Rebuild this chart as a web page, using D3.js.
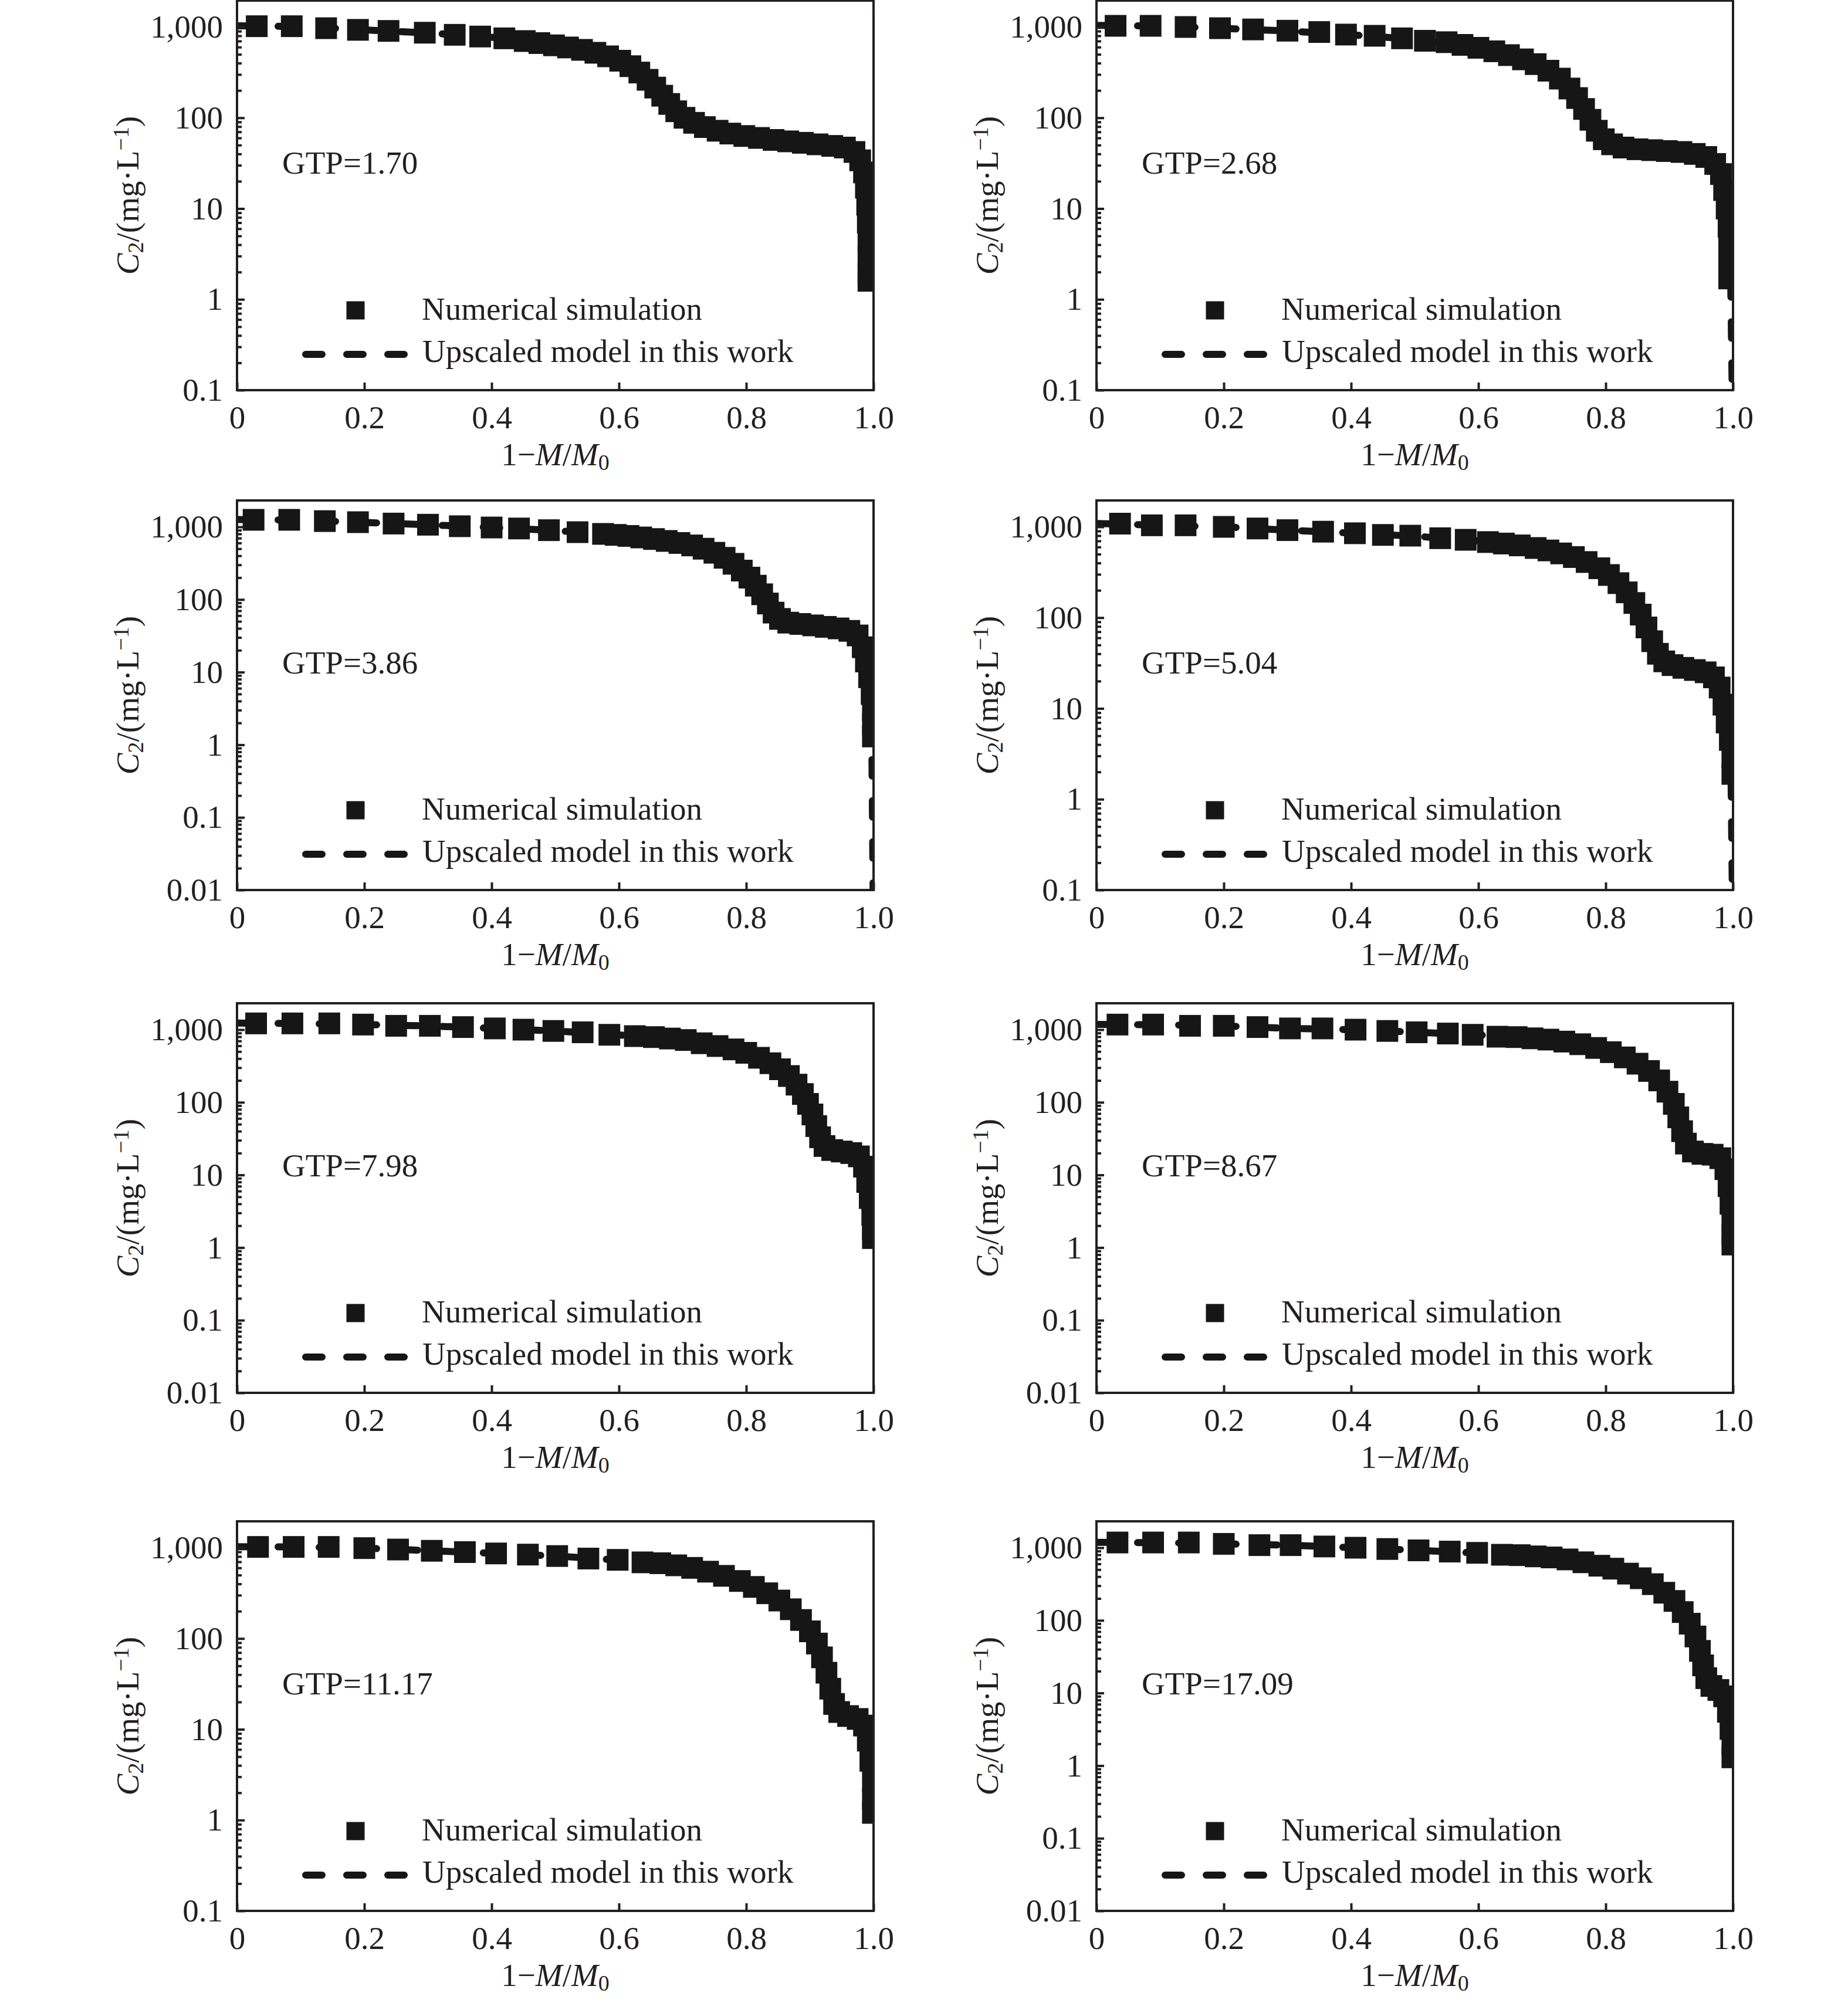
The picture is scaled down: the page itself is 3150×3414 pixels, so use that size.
<!DOCTYPE html>
<html><head><meta charset="utf-8">
<script src="https://cdn.jsdelivr.net/npm/d3@7"></script>
<style>body{margin:0;background:#fff;} text{font-family:"Liberation Serif","Times New Roman",serif;}</style>
</head><body>
<script>
// ---------- DATA ----------
const gtpLabels = ["1.70","2.68","3.86","5.04","7.98","8.67","11.17","17.09"];
const yMins = [0.1,0.1,0.01,0.1,0.01,0.01,0.1,0.01];
const yMajorTicks = [0.01,0.1,1,10,100,1000];
const xTicks = [0,0.2,0.4,0.6,0.8,1.0];
const legendLabels = ["Numerical simulation","Upscaled model in this work"];

const sim170 = [[0.031,1020],[0.086,1020],[0.14,970],[0.19,930],[0.238,905],[0.295,865],[0.342,820],[0.382,785],[0.42,750],
[0.452,700],[0.475,665],[0.498,628],[0.52,595],[0.542,560],[0.563,520],[0.583,475],[0.602,425],[0.618,370],[0.632,315],[0.645,262],[0.657,215],[0.668,175],[0.679,142],[0.69,118],[0.703,100],[0.718,88],[0.735,79],[0.755,72],[0.775,67],[0.797,63],[0.82,60],[0.843,57],[0.866,55],[0.889,53],[0.912,51],[0.935,49],[0.955,47],[0.97,42],[0.979,34],[0.985,25],[0.988,17],[0.99,11],[0.991,7],[0.992,4.5],[0.992,2.9],[0.992,1.9],[0.992,1.6]];
const sim268 = [[0.03,1030],[0.085,1030],[0.14,1000],[0.194,970],[0.246,940],[0.30,910],[0.35,880],[0.392,825],[0.437,800],[0.48,750],[0.516,705],
[0.55,680],[0.575,635],[0.6,590],[0.625,540],[0.648,490],[0.67,440],[0.69,390],[0.71,330],[0.728,270],[0.743,210],[0.755,165],[0.766,125],[0.776,95],[0.786,72],[0.797,58],[0.81,51],[0.828,47],[0.85,45],[0.873,44],[0.896,43],[0.919,42],[0.94,40],[0.958,37],[0.972,31],[0.981,24],[0.986,16],[0.99,10],[0.993,6.3],[0.994,4],[0.994,2.6],[0.994,1.7]];
const sim386 = [[0.026,1250],[0.082,1250],[0.138,1200],[0.19,1160],[0.246,1110],[0.30,1070],[0.35,1020],[0.40,980],[0.443,950],[0.49,900],[0.535,845],[0.575,800],
[0.595,775],[0.615,750],[0.635,715],[0.655,680],[0.675,640],[0.695,600],[0.715,555],[0.733,500],[0.75,440],[0.766,375],[0.78,310],[0.793,250],[0.805,200],[0.815,155],[0.825,118],[0.834,88],[0.843,66],[0.853,54],[0.866,48],[0.885,46],[0.905,44],[0.925,42],[0.945,40],[0.962,37],[0.975,32],[0.983,22],[0.988,14],[0.993,8.5],[0.997,5],[0.999,3],[0.999,1.9],[0.999,1.3]];
const sim504 = [[0.037,1085],[0.087,1040],[0.14,1040],[0.2,1000],[0.253,960],[0.3,920],[0.356,885],[0.406,850],[0.45,815],[0.493,800],[0.54,750],[0.58,720],
[0.615,680],[0.64,655],[0.665,625],[0.69,585],[0.71,550],[0.73,510],[0.75,465],[0.77,410],[0.79,350],[0.805,295],[0.82,240],[0.833,190],[0.845,145],[0.855,108],[0.864,78],[0.873,55],[0.882,40],[0.892,33],[0.905,30],[0.922,28],[0.94,26.5],[0.957,25],[0.97,22],[0.979,17],[0.985,11],[0.99,7],[0.995,4.5],[0.999,2.9],[0.999,1.9]];
const sim798 = [[0.03,1220],[0.087,1220],[0.145,1220],[0.198,1175],[0.25,1130],[0.303,1130],[0.355,1085],[0.405,1040],[0.45,1000],[0.497,960],[0.543,920],[0.585,850],[0.625,815],
[0.655,790],[0.68,755],[0.705,720],[0.73,650],[0.755,595],[0.78,535],[0.8,480],[0.82,410],[0.838,345],[0.853,285],[0.867,230],[0.879,175],[0.889,130],[0.897,95],[0.904,68],[0.91,47],[0.916,33],[0.923,25],[0.935,22],[0.95,21],[0.965,20],[0.977,18],[0.985,13],[0.99,8],[0.994,4.8],[0.998,2.8],[0.999,1.8],[0.999,1.35]];
const sim867 = [[0.033,1175],[0.089,1175],[0.147,1130],[0.2,1130],[0.253,1085],[0.304,1040],[0.355,1040],[0.407,1000],[0.457,960],[0.503,920],[0.552,885],[0.591,850],[0.63,800],
[0.66,790],[0.685,760],[0.71,730],[0.735,685],[0.76,630],[0.785,560],[0.808,490],[0.83,415],[0.85,340],[0.868,270],[0.884,200],[0.897,140],[0.907,95],[0.914,62],[0.92,40],[0.926,27],[0.937,21],[0.952,19.5],[0.968,19],[0.98,17],[0.988,12],[0.993,7],[0.996,4],[0.999,2.3],[0.999,1.5],[0.999,1.1]];
const sim1117 = [[0.033,1020],[0.089,1020],[0.144,1020],[0.2,990],[0.253,955],[0.306,925],[0.358,895],[0.407,865],[0.457,840],[0.503,810],[0.552,760],[0.598,735],[0.637,690],
[0.665,675],[0.69,640],[0.715,600],[0.74,545],[0.765,490],[0.79,430],[0.812,370],[0.833,315],[0.852,262],[0.87,210],[0.886,160],[0.9,120],[0.911,88],[0.919,62],[0.926,42],[0.932,28],[0.938,19],[0.946,15.5],[0.96,14],[0.975,13],[0.985,11],[0.991,7.5],[0.995,4.5],[0.999,2.7],[0.999,1.7],[0.999,1.2]];
const sim1709 = [[0.033,1180],[0.089,1180],[0.145,1180],[0.2,1130],[0.256,1085],[0.305,1085],[0.358,1040],[0.407,1000],[0.457,960],[0.506,920],[0.555,885],[0.598,850],[0.637,800],
[0.665,790],[0.69,760],[0.715,735],[0.74,690],[0.765,630],[0.79,565],[0.812,515],[0.835,440],[0.855,380],[0.874,315],[0.892,240],[0.908,185],[0.921,130],[0.932,90],[0.941,60],[0.948,38],[0.953,24],[0.958,16],[0.966,12.5],[0.977,11],[0.986,9],[0.992,5.5],[0.996,3.2],[0.999,2],[0.999,1.3]];

const model170 = [[0,1030],[0.1,1010],[0.2,930],[0.3,860],[0.4,770],[0.5,625],[0.6,430],[0.65,240],[0.7,105],[0.75,74],[0.85,57],[0.95,48],[0.975,38],[0.99,15],[0.992,3],[0.992,1.6]];
const model268 = [[0,1040],[0.1,1025],[0.2,965],[0.3,905],[0.4,820],[0.5,730],[0.6,590],[0.67,440],[0.72,300],[0.76,140],[0.79,65],[0.82,48],[0.9,43],[0.95,39],[0.975,29],[0.99,12],[0.996,2.5],[1.0,0.02]];
const model386 = [[0,1260],[0.1,1240],[0.2,1150],[0.3,1070],[0.4,980],[0.5,890],[0.6,770],[0.7,590],[0.76,390],[0.8,230],[0.83,100],[0.85,55],[0.88,47],[0.95,40],[0.975,32],[0.99,12],[0.997,2],[1.0,0.002]];
const model504 = [[0,1090],[0.1,1040],[0.2,1000],[0.3,920],[0.4,855],[0.5,790],[0.6,700],[0.7,570],[0.78,385],[0.83,210],[0.86,92],[0.88,43],[0.9,31],[0.95,26],[0.975,20],[0.99,6],[0.997,1.5],[1.0,0.02]];
const model798 = [[0,1230],[0.1,1215],[0.2,1175],[0.3,1125],[0.4,1045],[0.5,960],[0.6,845],[0.7,725],[0.8,480],[0.85,305],[0.89,130],[0.91,47],[0.925,24],[0.95,21],[0.977,18],[0.99,8],[0.998,2],[0.999,1.4]];
const model867 = [[0,1180],[0.1,1170],[0.2,1125],[0.3,1045],[0.4,1000],[0.5,925],[0.6,845],[0.7,740],[0.8,515],[0.85,340],[0.897,140],[0.914,62],[0.93,24],[0.96,19],[0.98,17],[0.993,7],[0.998,2.3],[0.999,1.2]];
const model1117 = [[0,1025],[0.1,1020],[0.2,990],[0.3,930],[0.4,870],[0.5,812],[0.6,730],[0.7,625],[0.8,405],[0.87,210],[0.911,88],[0.932,28],[0.946,15.5],[0.975,13],[0.991,7.5],[0.998,2.7],[0.999,1.3]];
const model1709 = [[0,1185],[0.1,1175],[0.2,1130],[0.3,1085],[0.4,1005],[0.5,925],[0.6,845],[0.7,750],[0.8,540],[0.874,315],[0.921,130],[0.948,38],[0.958,16],[0.977,11],[0.992,5.5],[0.998,2],[0.999,1.4]];

const simSeries = [sim170,sim268,sim386,sim504,sim798,sim867,sim1117,sim1709];
const modelSeries = [model170,model268,model386,model504,model798,model867,model1117,model1709];

// ---------- LAYOUT ----------
const W = 3150, H = 3414;
const colX = [404, 1869], rowTop = [1, 853, 1710, 2593];
const PW = 1085, PH = 664, TOPPAD = 45;
const INK = "#231f20", MARK = "#161616";
const FS = 55;

const svg = d3.select("body").append("svg").attr("width", W).attr("height", H);
const defs = svg.append("defs");

const yFmt = d3.format(",");
const xFmt = v => v === 0 ? "0" : d3.format(".1f")(v);

simSeries.forEach((sim, i) => {
  const col = i % 2, row = Math.floor(i / 2);
  const x0 = colX[col], top = rowTop[row], bottom = top + PH;
  const ymin = yMins[i];
  const decs = Math.log10(1000 / ymin);
  const ppd = (PH - TOPPAD) / decs;
  const ymax = 1000 * Math.pow(10, TOPPAD / ppd);
  const xs = d3.scaleLinear().domain([0, 1]).range([x0, x0 + PW]);
  const ys = d3.scaleLog().domain([ymin, ymax]).range([bottom, top]);

  const g = svg.append("g");
  defs.append("clipPath").attr("id", "clip" + i).append("rect")
    .attr("x", x0).attr("y", top).attr("width", PW).attr("height", PH);
  const plot = g.append("g").attr("clip-path", `url(#clip${i})`);

  // model dashed line
  const line = d3.line().x(d => xs(d[0])).y(d => ys(Math.max(d[1], 1e-4)));
  plot.append("path").datum(modelSeries[i]).attr("d", line)
    .attr("fill", "none").attr("stroke", MARK).attr("stroke-width", 12)
    .attr("stroke-dasharray", "28 42").attr("stroke-linecap", "round");

  // simulation squares
  const S = 37;
  plot.selectAll("rect.m").data(sim).enter().append("rect").attr("class", "m")
    .attr("x", d => xs(d[0]) - S / 2).attr("y", d => ys(d[1]) - S / 2)
    .attr("width", S).attr("height", S).attr("fill", MARK);

  // axes
  const majors = yMajorTicks.filter(v => v >= ymin - 1e-12);
  const minors = [];
  for (let e = Math.round(Math.log10(ymin)); e < 3; e++)
    for (let k = 2; k <= 9; k++) minors.push(k * Math.pow(10, e));
  const yAx = g.append("g").attr("transform", `translate(${x0},0)`)
    .call(d3.axisLeft(ys).tickValues(majors).tickFormat(yFmt).tickSize(-13).tickSizeOuter(0).tickPadding(24));
  const yAxMin = g.append("g").attr("transform", `translate(${x0},0)`)
    .call(d3.axisLeft(ys).tickValues(minors).tickFormat("").tickSize(-8).tickSizeOuter(0));
  const xAx = g.append("g").attr("transform", `translate(0,${bottom})`)
    .call(d3.axisBottom(xs).tickValues(xTicks).tickFormat(xFmt).tickSize(-13).tickSizeOuter(0).tickPadding(26));
  [yAx, yAxMin, xAx].forEach(a => {
    a.select(".domain").remove();
    a.selectAll("line").attr("stroke", INK).attr("stroke-width", 4);
    a.selectAll("text").attr("fill", INK).style("font-size", FS + "px")
      .style("font-family", '"Liberation Serif","Times New Roman",serif');
  });

  // box
  g.append("rect").attr("x", x0).attr("y", top).attr("width", PW).attr("height", PH)
    .attr("fill", "none").attr("stroke", INK).attr("stroke-width", 4);

  // GTP label
  g.append("text").attr("x", x0 + 77).attr("y", top + 295).attr("fill", INK)
    .style("font-size", FS + "px").text("GTP=" + gtpLabels[i]);

  // legend
  g.append("rect").attr("x", x0 + 202 - 15.5).attr("y", top + 528 - 15.5)
    .attr("width", 31).attr("height", 31).attr("fill", MARK);
  g.append("text").attr("x", x0 + 315).attr("y", top + 544).attr("fill", INK)
    .style("font-size", FS + "px").text(legendLabels[0]);
  g.append("line").attr("x1", x0 + 117).attr("x2", x0 + 285)
    .attr("y1", top + 603).attr("y2", top + 603)
    .attr("stroke", MARK).attr("stroke-width", 12)
    .attr("stroke-dasharray", "28 42").attr("stroke-linecap", "round");
  g.append("text").attr("x", x0 + 316).attr("y", top + 616).attr("fill", INK)
    .style("font-size", FS + "px").text(legendLabels[1]);

  // x label: 1−M/M0
  const xl = g.append("text").attr("x", x0 + PW / 2).attr("y", bottom + 128)
    .attr("text-anchor", "middle").attr("fill", INK).style("font-size", FS + "px");
  xl.append("tspan").text("1−");
  xl.append("tspan").style("font-style", "italic").text("M");
  xl.append("tspan").text("/");
  xl.append("tspan").style("font-style", "italic").text("M");
  xl.append("tspan").attr("baseline-shift", "-22%").style("font-size", "38px").text("0");

  // y label: C2/(mg·L−1)
  const yl = g.append("text")
    .attr("transform", `translate(${x0 - 168},${top + PH / 2}) rotate(-90)`)
    .attr("text-anchor", "middle").attr("fill", INK).style("font-size", FS + "px");
  yl.append("tspan").style("font-style", "italic").text("C");
  yl.append("tspan").attr("baseline-shift", "-22%").style("font-size", "38px").text("2");
  yl.append("tspan").text("/(mg·L");
  yl.append("tspan").attr("baseline-shift", "45%").style("font-size", "38px").text("−1");
  yl.append("tspan").text(")");
});
</script>
</body></html>
